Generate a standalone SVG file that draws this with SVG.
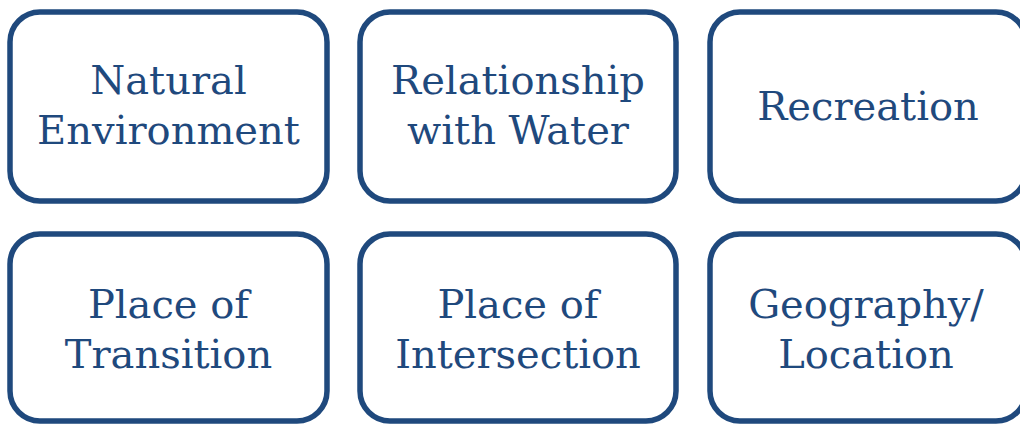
<svg xmlns="http://www.w3.org/2000/svg" width="1020" height="425" viewBox="0 0 1020 425">
<style>
.box{fill:#ffffff;stroke:#1f497d;stroke-width:5.5}
.t{font-family:"DejaVu Serif","Liberation Serif",serif;font-size:40px;fill:#1f497d;text-anchor:middle}
</style>
<rect width="1020" height="425" fill="#ffffff"/>
<g id="connectors"></g>
<g id="n1"><rect class="box" x="10" y="12" width="317" height="189" rx="30"/><text class="t" x="168.5" y="94">Natural</text><text class="t" x="168.5" y="144">Environment</text></g>
<g id="n2"><rect class="box" x="360" y="12" width="316" height="189" rx="30"/><text class="t" x="518" y="94">Relationship</text><text class="t" x="518" y="144">with Water</text></g>
<g id="n3"><rect class="box" x="710" y="12" width="316" height="189" rx="30"/><text class="t" x="868" y="120">Recreation</text></g>
<g id="n4"><rect class="box" x="10" y="234" width="317" height="187" rx="30"/><text class="t" x="168.5" y="318">Place of</text><text class="t" x="168.5" y="368">Transition</text></g>
<g id="n5"><rect class="box" x="360" y="234" width="316" height="187" rx="30"/><text class="t" x="518" y="318">Place of</text><text class="t" x="518" y="368">Intersection</text></g>
<g id="n6"><rect class="box" x="710" y="234" width="316" height="187" rx="30"/><text class="t" x="866" y="318">Geography/</text><text class="t" x="866" y="368">Location</text></g>
</svg>
